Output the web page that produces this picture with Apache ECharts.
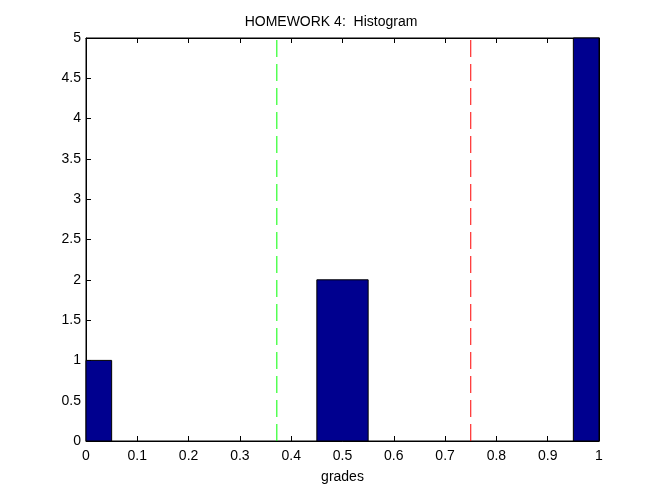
<!DOCTYPE html>
<html><head><meta charset="utf-8">
<script src="https://cdn.jsdelivr.net/npm/echarts@6/dist/echarts.min.js"></script>
<style>html,body{margin:0;padding:0;background:#fff}#c{width:662px;height:497px}</style>
</head><body><div id="c"></div>
<script>
// bin ranges [start, end] and counts
const binStarts = [0.0, 0.45, 0.95];
const binEnds   = [0.05, 0.55, 1.05];
const counts    = [1, 2, 5];
const greenX = 0.372;
const redX = 0.75;
const xTicks = ['0','0.1','0.2','0.3','0.4','0.5','0.6','0.7','0.8','0.9','1'];
const yTicks = ['0','0.5','1','1.5','2','2.5','3','3.5','4','4.5','5'];

const FONT = '"Liberation Sans", Arial, sans-serif';
const chart = echarts.init(document.getElementById('c'), null, {renderer:'canvas'});
const barData = binStarts.map((s,i)=>[s, binEnds[i], counts[i]]);
function axisCommon(){ return {
  axisLine:{show:true,onZero:false,lineStyle:{color:'#000',width:1}},
  axisTick:{show:true,inside:true,length:5,lineStyle:{color:'#000'}},
  splitLine:{show:false}
};}
chart.setOption({
  animation:false,
  backgroundColor:'#fff',
  title:{text:'HOMEWORK 4:  Histogram',left:'center',top:10,
    textStyle:{fontFamily:FONT,fontSize:14,fontWeight:'normal',color:'#000'}},
  grid:{left:86,right:63,top:38,bottom:56,show:true,borderColor:'#000',borderWidth:1,containLabel:false},
  xAxis:[
    Object.assign({type:'value',min:0,max:1,interval:0.1,position:'bottom',
      name:'grades',nameLocation:'middle',nameGap:29,
      nameTextStyle:{fontFamily:FONT,fontSize:14,color:'#000'},
      axisLabel:{fontFamily:FONT,fontSize:14,color:'#000',margin:8,
        formatter:v=>xTicks[Math.round(v*10)]}},axisCommon()),
    Object.assign({type:'value',min:0,max:1,interval:0.1,position:'top',
      axisLabel:{show:false}},axisCommon())
  ],
  yAxis:[
    Object.assign({type:'value',min:0,max:5,interval:0.5,position:'left',
      axisLabel:{fontFamily:FONT,fontSize:14,color:'#000',margin:5,
        formatter:v=>yTicks[Math.round(v*2)]}},axisCommon()),
    Object.assign({type:'value',min:0,max:5,interval:0.5,position:'right',
      axisLabel:{show:false}},axisCommon())
  ],
  series:[
    {type:'custom',xAxisIndex:0,yAxisIndex:0,data:barData,
      renderItem:function(params,api){
        const p0 = api.coord([api.value(0),0]);
        const p1 = api.coord([api.value(1),api.value(2)]);
        const rect = echarts.graphic.clipRectByRect(
          {x:p0[0],y:p1[1],width:p1[0]-p0[0],height:p0[1]-p1[1]},
          {x:params.coordSys.x,y:params.coordSys.y,width:params.coordSys.width,height:params.coordSys.height});
        return rect && {type:'rect',shape:rect,style:{fill:'#00008f',stroke:'#000',lineWidth:1}};
      },
      encode:{x:[0,1],y:2}, z:2},
    {type:'line',data:[[greenX,0],[greenX,5]],symbol:'none',silent:true,z:3,
      lineStyle:{color:'#00ff00',width:1,type:[17,7]}},
    {type:'line',data:[[redX,0],[redX,5]],symbol:'none',silent:true,z:3,
      lineStyle:{color:'#ff0000',width:1,type:[17,7]}}
  ]
});
</script></body></html>
